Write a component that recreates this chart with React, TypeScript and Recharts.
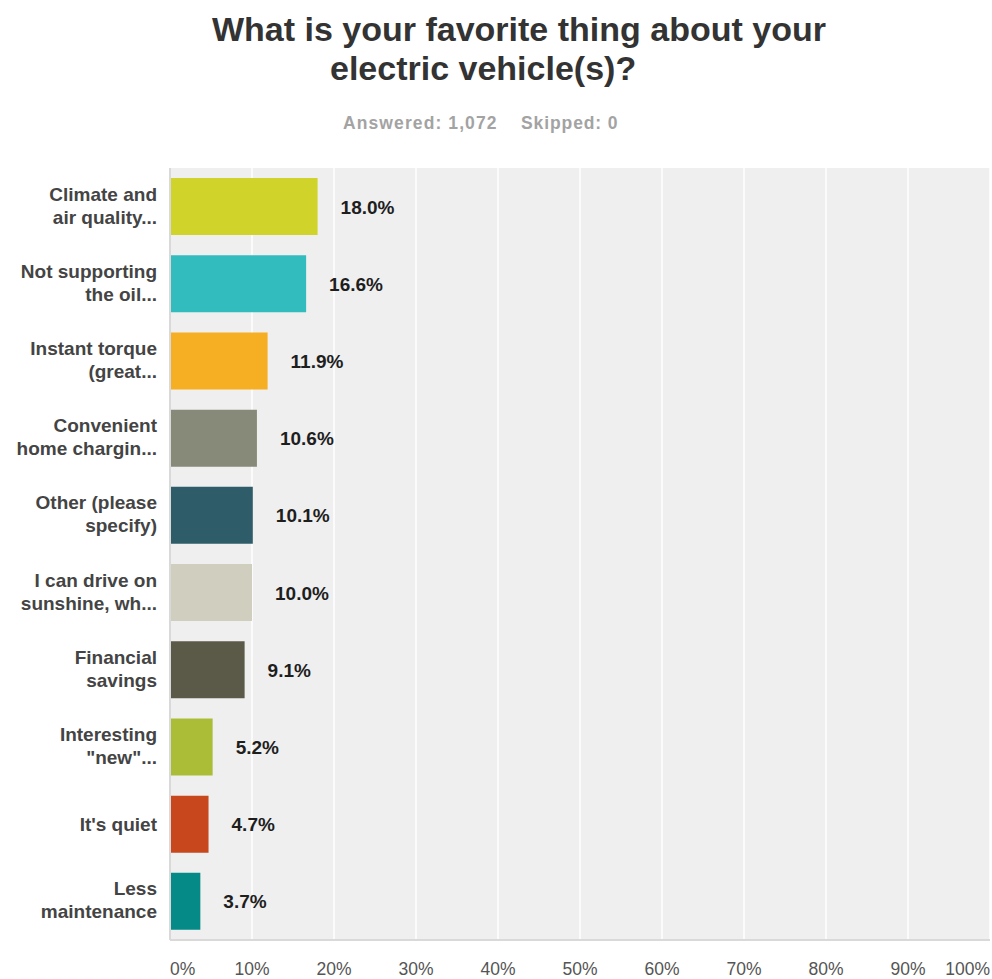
import React from "react";
import { BarChart, Bar, XAxis, YAxis, CartesianGrid, Cell, LabelList } from "recharts";

const categories: string[] = [
  "Climate and\nair quality...",
  "Not supporting\nthe oil...",
  "Instant torque\n(great...",
  "Convenient\nhome chargin...",
  "Other (please\nspecify)",
  "I can drive on\nsunshine, wh...",
  "Financial\nsavings",
  "Interesting\n\"new\"...",
  "It's quiet",
  "Less\nmaintenance",
];

const percentages: number[] = [18.0, 16.6, 11.9, 10.6, 10.1, 10.0, 9.1, 5.2, 4.7, 3.7];

const barColors: string[] = [
  "#d0d42a",
  "#33bcbe",
  "#f6ae22",
  "#878a78",
  "#2e5d69",
  "#d0cfbf",
  "#5b5a48",
  "#abbd37",
  "#c8471c",
  "#058a87",
];

const xTicks: number[] = [0, 10, 20, 30, 40, 50, 60, 70, 80, 90, 100];

const titleLines: string[] = ["What is your favorite thing about your", "electric vehicle(s)?"];
const answeredText = "Answered: 1,072";
const skippedText = "Skipped: 0";

const data = categories.map((name, i) => ({ name, value: percentages[i] }));

const FONT = "'Liberation Sans', Arial, Helvetica, sans-serif";

const YTick = (props: any) => {
  const { y, payload } = props;
  const lines: string[] = String(payload.value).split("\n");
  const offsets = lines.length === 1 ? [7] : [-6, 17];
  return (
    <g>
      {lines.map((ln, i) => (
        <text
          key={i}
          x={157}
          y={y + offsets[i]}
          textAnchor="end"
          fontFamily={FONT}
          fontWeight="bold"
          fontSize={19}
          fill="#444444"
        >
          {ln}
        </text>
      ))}
    </g>
  );
};

const XTick = (props: any) => {
  const { x, y, payload } = props;
  const v = payload.value;
  let anchor: "start" | "middle" | "end" = "middle";
  if (v === 0) anchor = "start";
  if (v === 100) anchor = "end";
  return (
    <text
      x={x}
      y={y + 35}
      textAnchor={anchor}
      fontFamily={FONT}
      fontSize={17.5}
      fill="#555555"
    >
      {`${v}%`}
    </text>
  );
};

const ValueLabel = (props: any) => {
  const { x, y, width, height, value } = props;
  return (
    <text
      x={x + width + 23}
      y={y + height / 2 + 7}
      textAnchor="start"
      fontFamily={FONT}
      fontWeight="bold"
      fontSize={19}
      fill="#1e1e1e"
    >
      {`${Number(value).toFixed(1)}%`}
    </text>
  );
};

export default function App() {
  return (
    <div style={{ position: "absolute", left: 0, top: 0, width: 992, height: 979, background: "#ffffff" }}>
      <svg
        width={992}
        height={160}
        style={{ position: "absolute", left: 0, top: 0 }}
      >
        <text x={212} y={41} fontFamily={FONT} fontWeight="bold" fontSize={34} fill="#333333">
          {titleLines[0]}
        </text>
        <text x={330} y={80} fontFamily={FONT} fontWeight="bold" fontSize={34} fill="#333333">
          {titleLines[1]}
        </text>
        <text x={343} y={129} fontFamily={FONT} fontWeight="bold" fontSize={17.5} letterSpacing={1.1} fill="#a3a3a3">
          {answeredText}
        </text>
        <text x={521} y={129} fontFamily={FONT} fontWeight="bold" fontSize={17.5} letterSpacing={0.9} fill="#a3a3a3">
          {skippedText}
        </text>
      </svg>
      <div style={{ position: "absolute", left: 0, top: 0 }}>
        <BarChart
          width={992}
          height={979}
          data={data}
          layout="vertical"
          margin={{ top: 168, right: 2, bottom: 0, left: 0 }}
          barCategoryGap="13%"
        >
          <CartesianGrid
            horizontal={false}
            vertical={true}
            fill="#efefef"
            stroke="#ffffff"
            strokeWidth={1.5}
          />
          <XAxis
            type="number"
            domain={[0, 100]}
            ticks={xTicks}
            interval={0}
            height={39}
            tickLine={false}
            tickSize={0}
            tickMargin={0}
            axisLine={{ stroke: "#d9d9d9", strokeWidth: 2 }}
            tick={<XTick />}
          />
          <YAxis
            type="category"
            dataKey="name"
            width={170}
            tickLine={false}
            tickSize={0}
            tickMargin={0}
            interval={0}
            axisLine={{ stroke: "#d9d9d9", strokeWidth: 2 }}
            tick={<YTick />}
          />
          <Bar dataKey="value" isAnimationActive={false}>
            {data.map((d, i) => (
              <Cell key={i} fill={barColors[i]} />
            ))}
            <LabelList dataKey="value" content={<ValueLabel />} />
          </Bar>
        </BarChart>
      </div>
    </div>
  );
}
